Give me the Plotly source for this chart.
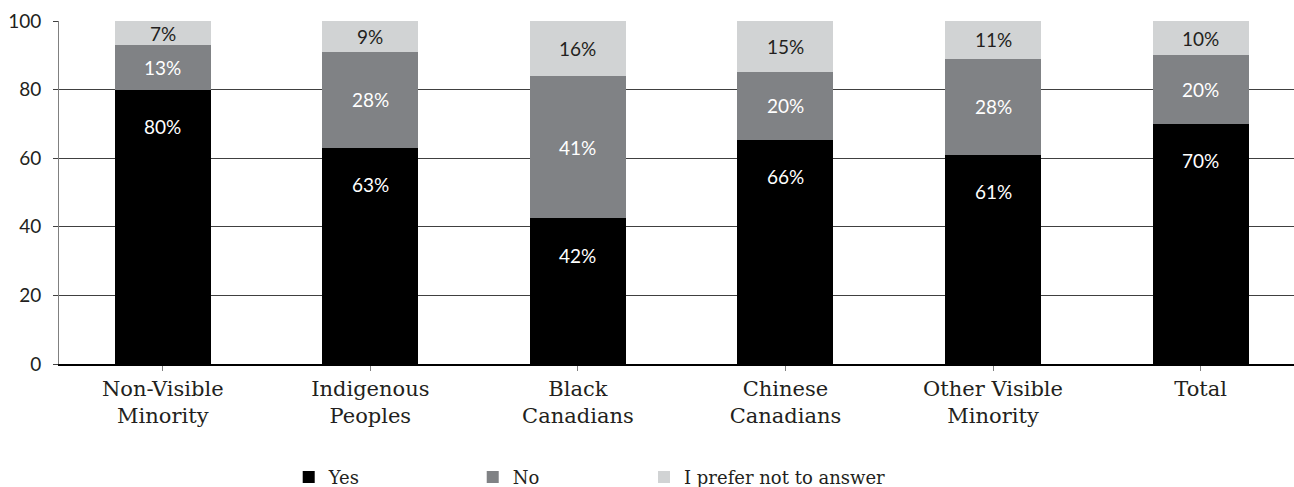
import plotly.graph_objects as go

categories = ["Non-Visible<br>Minority", "Indigenous<br>Peoples", "Black<br>Canadians",
              "Chinese<br>Canadians", "Other Visible<br>Minority", "Total"]
yes_vals = [80, 63, 42, 66, 61, 70]
no_vals = [13, 28, 41, 20, 28, 20]
pref_vals = [7, 9, 16, 15, 11, 10]
series_names = ["Yes", "No", "I prefer not to answer"]
y_ticks = [0, 20, 40, 60, 80, 100]

colors = ["#000000", "#808285", "#d1d3d4"]
label_colors = ["#ffffff", "#ffffff", "#231f20"]
legend_ids = ["legend", "legend2", "legend3"]
legend_x = [0.186, 0.335, 0.4737]
serif = "DejaVu Serif"
numfont = "Lato"

fig = go.Figure()
for name, vals, col, lg in zip(series_names, [yes_vals, no_vals, pref_vals], colors, legend_ids):
    fig.add_trace(go.Bar(x=categories, y=vals, name=name, marker_color=col,
                         marker_line_width=0, hoverinfo="skip", legend=lg))

# labels (positions derived from normalised data)
annotations = []
for i, c in enumerate(categories):
    tot = yes_vals[i] + no_vals[i] + pref_vals[i]
    y_n = yes_vals[i] / tot * 100
    n_n = no_vals[i] / tot * 100
    p_n = pref_vals[i] / tot * 100
    annotations.append(dict(x=c, y=y_n, yshift=-37, text=f"{yes_vals[i]}%", showarrow=False,
                            font=dict(family=numfont, size=19, color=label_colors[0])))
    annotations.append(dict(x=c, y=y_n + n_n / 2, text=f"{no_vals[i]}%", showarrow=False,
                            font=dict(family=numfont, size=19, color=label_colors[1])))
    annotations.append(dict(x=c, y=y_n + n_n + p_n / 2, text=f"{pref_vals[i]}%", showarrow=False,
                            font=dict(family=numfont, size=19, color=label_colors[2])))

legend_common = dict(orientation="h", xanchor="left", yref="container", y=0.02, yanchor="middle",
                     bgcolor="rgba(0,0,0,0)",
                     font=dict(family=serif, size=18, color="#231f20"))

fig.update_layout(
    width=1294, height=487,
    margin=dict(l=59, r=0, t=21, b=123, autoexpand=False),
    barmode="stack", barnorm="percent", bargap=0.5375,
    plot_bgcolor="white", paper_bgcolor="white",
    annotations=annotations,
    showlegend=True,
    legend=dict(x=legend_x[0], **legend_common),
    legend2=dict(x=legend_x[1], **legend_common),
    legend3=dict(x=legend_x[2], **legend_common),
    xaxis=dict(type="category", range=[-0.5, 5.45], showgrid=False, automargin=False,
               showline=True, linecolor="#000000", linewidth=1.5,
               ticks="outside", ticklen=5, tickcolor="#808080",
               tickfont=dict(family=serif, size=21, color="#231f20")),
    yaxis=dict(range=[0, 100], tickvals=y_ticks, showgrid=True, gridcolor="#404040", gridwidth=1,
               showline=True, linecolor="#808080", linewidth=1, automargin=False,
               ticks="outside", ticklen=5, tickcolor="#404040",
               zeroline=False, ticklabelstandoff=8,
               tickfont=dict(family=numfont, size=19, color="#231f20")),
)

fig.write_html("out.html")
